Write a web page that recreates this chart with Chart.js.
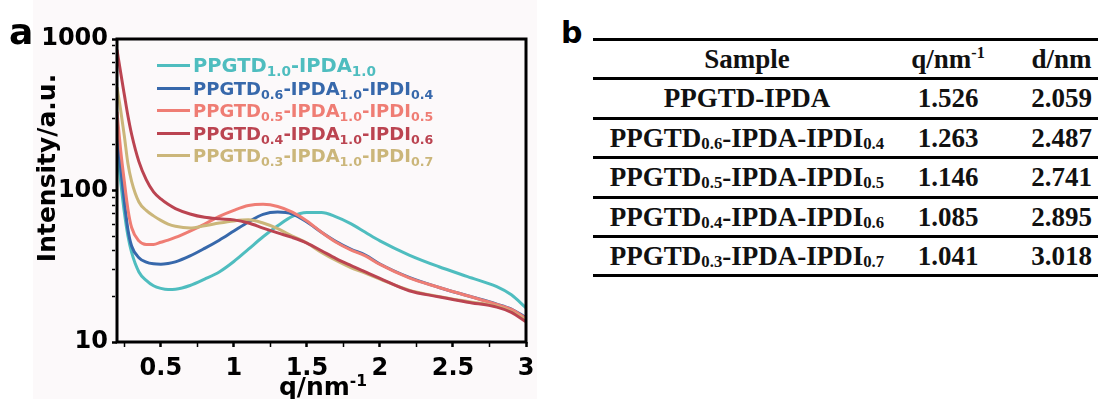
<!DOCTYPE html>
<html>
<head>
<meta charset="utf-8">
<script src="https://cdn.jsdelivr.net/npm/chart.js@4.4.1/dist/chart.umd.min.js"></script>
<style>
body { margin:0; width:1115px; height:399px; overflow:hidden; position:relative; background:#fff; font-family:"DejaVu Sans", sans-serif; }
#panelA { position:absolute; left:33px; top:0; width:504px; height:399px; background:#fcf9fa; }
#chartBox { position:absolute; left:0; top:0; width:560px; height:399px; }
.letter { position:absolute; font-weight:bold; color:#000; line-height:1; }
.axTitle { position:absolute; font-weight:bold; font-size:25px; color:#000; white-space:nowrap; line-height:1; }
.axTitle sup { font-size:0.62em; vertical-align:0.55em; line-height:0; }
.lgRow { position:absolute; left:157px; height:22px; display:flex; align-items:center; font-weight:bold; font-size:18px; white-space:nowrap; }
.lgRow .ln { width:33px; height:3px; margin-right:3px; }
.lgRow sub { font-size:0.7em; vertical-align:-0.32em; line-height:0; }
#tbl { position:absolute; left:593px; top:38px; width:505px; border-top:3px solid #000; font-family:"Liberation Serif","Times New Roman",serif; font-weight:bold; font-size:27px; color:#111; }
#tbl .row { display:flex; height:36.4px; line-height:36.4px; border-bottom:3px solid #000; }
#tbl .c1 { width:308px; text-align:center; }
#tbl .c2 { width:94px; text-align:center; }
#tbl .c3 { width:103px; padding-left:30px; box-sizing:border-box; text-align:center; }
#tbl sub { font-size:0.62em; vertical-align:-0.12em; line-height:0; }
#tbl sup { font-size:0.6em; vertical-align:0.6em; line-height:0; }
</style>
</head>
<body>
<div id="panelA"></div>
<div id="chartBox"><canvas id="myChart" width="560" height="399"></canvas></div>
<div class="letter" style="left:9px; top:14px; font-size:36px;">a</div>
<div class="letter" style="left:561px; top:18px; font-size:30px;">b</div>
<div class="axTitle" style="left:46px; top:168px; transform:translate(-50%,-50%) rotate(-90deg);">Intensity/a.u.</div>
<div class="axTitle" style="left:323px; top:374px; transform:translateX(-50%);">q/nm<sup>-1</sup></div>
<div id="legend"></div>
<div id="tbl"></div>

<script>
// Données
const q = [0.2, 0.225, 0.25, 0.275, 0.3, 0.35, 0.4, 0.45, 0.5, 0.55, 0.6, 0.7, 0.8, 0.9, 1.0,
    1.1, 1.2, 1.3, 1.4, 1.5, 1.6, 1.7, 1.8, 1.9, 2.0, 2.2, 2.4, 2.6, 2.8, 2.9, 3.0];

const ipda10 = [190, 115, 72, 50, 39, 29, 25.5, 23.5, 22.6, 22.2, 22.3, 23.6, 26, 29, 34,
    41, 49.5, 58.5, 67.5, 71.5, 71.5, 67, 60.5, 53, 46.5, 37.5, 31.5, 27, 23.2, 20.5, 16.8];
const ipdi04 = [240, 140, 85, 55, 43, 36, 33.7, 32.8, 32.6, 33, 33.8, 37, 41.5, 47, 54,
    62, 69.5, 72, 70, 62, 53, 46, 41, 37.5, 32.7, 26.7, 23, 20.2, 17.8, 16.5, 14.5];
const ipdi05 = [330, 185, 115, 75, 57, 46.5, 44, 44, 45.5, 47, 49, 54, 60, 67.5, 74,
    79.5, 81, 78.5, 72, 63, 53, 45.5, 40.5, 37, 32.5, 26.5, 23, 20.2, 17.7, 16.4, 14.3];
const ipdi06 = [850, 600, 430, 310, 235, 155, 118, 98, 88, 81, 76, 70, 66.5, 65, 64,
    61, 56.5, 52.5, 49, 45, 40, 35.5, 32, 29, 26.3, 21.8, 19.9, 18.3, 17, 15.7, 13.6];
const ipdi07 = [480, 340, 230, 150, 115, 84, 74, 68, 63.5, 60, 58, 56.5, 58.5, 61, 63,
    64, 61, 56, 50, 45, 39, 34.5, 31, 28.5, 26, 22, 20, 18.5, 17.2, 15.9, 14];

const seriesNames = ['PPGTD_{1.0}-IPDA_{1.0}', 'PPGTD_{0.6}-IPDA_{1.0}-IPDI_{0.4}', 'PPGTD_{0.5}-IPDA_{1.0}-IPDI_{0.5}',
    'PPGTD_{0.4}-IPDA_{1.0}-IPDI_{0.6}', 'PPGTD_{0.3}-IPDA_{1.0}-IPDI_{0.7}'];
const seriesColors = ['#4fbdbf', '#3768ab', '#ef7d74', '#bb4451', '#cbb67a'];
const seriesValues = [ipda10, ipdi04, ipdi05, ipdi06, ipdi07];

const xMajor = [0.5, 1, 1.5, 2, 2.5, 3];
const xMinor = [0.25, 0.75, 1.25, 1.75, 2.25, 2.75];
const yMajor = [10, 100, 1000];

// tableau (panneau b)
const tableHead = ['Sample', 'q/nm<sup>-1</sup>', 'd/nm'];
const samples = ['PPGTD-IPDA', 'PPGTD_{0.6}-IPDA-IPDI_{0.4}', 'PPGTD_{0.5}-IPDA-IPDI_{0.5}',
    'PPGTD_{0.4}-IPDA-IPDI_{0.6}', 'PPGTD_{0.3}-IPDA-IPDI_{0.7}'];
const qPeak = ['1.526', '1.263', '1.146', '1.085', '1.041'];
const dSpacing = ['2.059', '2.487', '2.741', '2.895', '3.018'];

const subs = s => s.replace(/_\{([^}]*)\}/g, '<sub>$1</sub>');

// ticks mineurs de l'axe log
const yTicks = [];
yMajor.forEach((m, i) => {
    if (i === yMajor.length - 1) { yTicks.push(m); return; }
    for (let k = 1; k < 10; k++) yTicks.push(m * k);
});
const xTicks = xMajor.concat(xMinor).sort((a, b) => a - b);

const tickFont = { family: 'DejaVu Sans', weight: 'bold', size: 24 };

const data = {
    datasets: seriesValues.map((vals, i) => ({
        label: seriesNames[i],
        data: q.map((x, j) => ({ x: x, y: vals[j] })),
        borderColor: seriesColors[i],
        backgroundColor: seriesColors[i],
        borderWidth: 3,
        pointRadius: 0,
        cubicInterpolationMode: 'monotone',
        order: [5, 4, 3, 1, 2][i],
    }))
};

const framePlugin = {
    id: 'frame',
    afterDatasetsDraw(chart) {
        const { ctx, chartArea: a } = chart;
        ctx.save();
        ctx.strokeStyle = '#000';
        ctx.lineWidth = 3;
        ctx.strokeRect(a.left, a.top, a.right - a.left, a.bottom - a.top);
        ctx.restore();
    }
};

const config = {
    type: 'line',
    data: data,
    options: {
        responsive: false,
        animation: false,
        layout: { padding: { top: 39, right: 34, left: 0, bottom: 0 } },
        scales: {
            x: {
                type: 'linear',
                min: 0.2,
                max: 3,
                afterFit: s => { s.height = 57; },
                afterBuildTicks: s => { s.ticks = xTicks.map(v => ({ value: v })); },
                border: { display: false },
                grid: {
                    drawOnChartArea: false,
                    drawTicks: true,
                    tickLength: 5,
                    tickColor: '#000',
                    tickWidth: c => xMajor.includes(c.tick.value) ? 2.5 : 1.5,
                },
                ticks: {
                    autoSkip: false,
                    maxRotation: 0,
                    padding: 7,
                    color: '#000',
                    font: tickFont,
                    callback: v => xMajor.includes(v) ? String(v) : '',
                }
            },
            y: {
                type: 'logarithmic',
                min: 10,
                max: 1000,
                afterFit: s => { s.width = 117; },
                afterBuildTicks: s => { s.ticks = yTicks.map(v => ({ value: v })); },
                border: { display: false },
                grid: {
                    drawOnChartArea: false,
                    drawTicks: true,
                    tickLength: 5,
                    tickColor: '#000',
                    tickWidth: c => yMajor.includes(c.tick.value) ? 2.5 : 1.5,
                    tickBorderDash: c => yMajor.includes(c.tick.value) ? [] : [3, 10],
                },
                ticks: {
                    autoSkip: false,
                    padding: 4,
                    color: '#000',
                    font: tickFont,
                    callback: v => yMajor.includes(v) ? String(v) : '',
                }
            }
        },
        plugins: {
            legend: { display: false },
            tooltip: { enabled: false },
        }
    },
    plugins: [framePlugin]
};

var myChart = new Chart(document.getElementById('myChart'), config);

// légende avec indices
const rowY = [65, 88, 110.5, 133, 155.5];
document.getElementById('legend').innerHTML = seriesNames.map((n, i) =>
    `<div class="lgRow" style="top:${rowY[i] - 11}px; color:${seriesColors[i]};${i === 0 ? ' font-size:19.5px;' : ''}">` +
    `<span class="ln" style="background:${seriesColors[i]}"></span><span>${subs(n)}</span></div>`
).join('');

let html = `<div class="row"><div class="c1">${tableHead[0]}</div><div class="c2">${tableHead[1]}</div><div class="c3">${tableHead[2]}</div></div>`;
samples.forEach((s, i) => {
    html += `<div class="row"><div class="c1">${subs(s)}</div><div class="c2">${qPeak[i]}</div><div class="c3">${dSpacing[i]}</div></div>`;
});
document.getElementById('tbl').innerHTML = html;
</script>
</body>
</html>
